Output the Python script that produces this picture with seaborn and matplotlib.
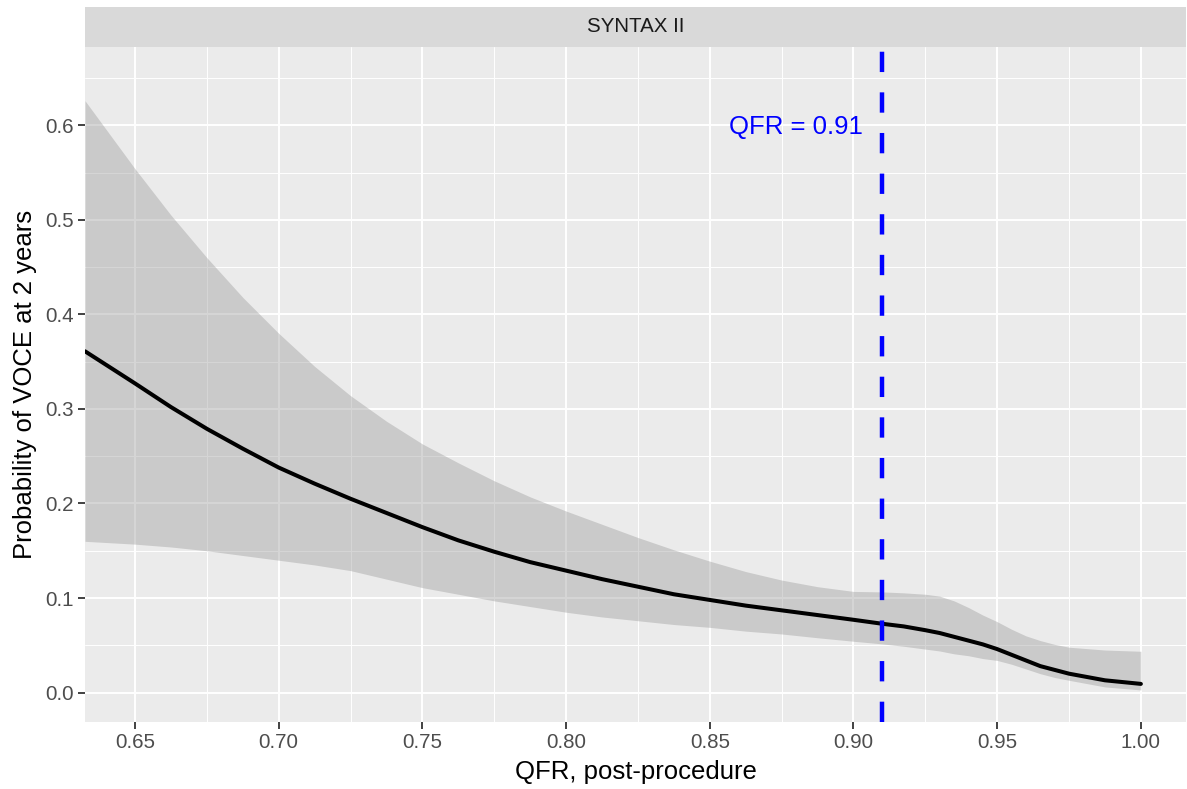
import numpy as np
import pandas as pd
import matplotlib
matplotlib.use("Agg")
import matplotlib.pyplot as plt
from matplotlib.ticker import MultipleLocator
import seaborn as sns

# ---- data ----
qfr = [0.6326, 0.65, 0.6625, 0.675, 0.6875, 0.70, 0.7125, 0.725, 0.7375, 0.75,
       0.7625, 0.775, 0.7875, 0.80, 0.8125, 0.825, 0.8375, 0.85, 0.8625, 0.875,
       0.8875, 0.90, 0.91, 0.9175, 0.925, 0.93, 0.935, 0.94, 0.945, 0.95, 0.955,
       0.96, 0.965, 0.97, 0.975, 0.9875, 1.00]
prob = [0.361, 0.327, 0.302, 0.279, 0.258, 0.238, 0.221, 0.205, 0.190, 0.175,
        0.161, 0.149, 0.138, 0.129, 0.120, 0.112, 0.104, 0.098, 0.092, 0.087,
        0.082, 0.077, 0.0728, 0.070, 0.066, 0.063, 0.059, 0.055, 0.051, 0.046,
        0.040, 0.034, 0.028, 0.024, 0.020, 0.013, 0.0092]
upper = [0.626, 0.554, 0.505, 0.460, 0.418, 0.380, 0.345, 0.314, 0.287, 0.263,
         0.243, 0.224, 0.207, 0.192, 0.178, 0.164, 0.151, 0.139, 0.128, 0.119,
         0.112, 0.107, 0.1065, 0.1055, 0.104, 0.102, 0.097, 0.090, 0.082, 0.075,
         0.067, 0.060, 0.055, 0.051, 0.048, 0.045, 0.0437]
lower = [0.160, 0.157, 0.154, 0.150, 0.145, 0.140, 0.135, 0.129, 0.120, 0.111,
         0.104, 0.097, 0.091, 0.085, 0.080, 0.076, 0.072, 0.069, 0.065, 0.062,
         0.058, 0.0543, 0.0515, 0.049, 0.046, 0.044, 0.041, 0.039, 0.036, 0.034,
         0.030, 0.025, 0.020, 0.016, 0.013, 0.006, 0.0028]
cutoff = 0.91
cutoff_label = "QFR = 0.91"
facet_label = "SYNTAX II"
x_ticks = [0.65, 0.70, 0.75, 0.80, 0.85, 0.90, 0.95, 1.00]
y_ticks = [0.0, 0.1, 0.2, 0.3, 0.4, 0.5, 0.6]

df = pd.DataFrame({"qfr": qfr, "prob": prob, "upper": upper, "lower": lower})

sns.set_theme(style="darkgrid")
plt.rcParams["font.family"] = ["Liberation Sans", "DejaVu Sans"]

W, H = 1187, 789
fig = plt.figure(figsize=(W / 100, H / 100), dpi=100)
fig.patch.set_facecolor("white")

pl, pr, pt, pb = 85, 1186, 47, 722
ax = fig.add_axes([pl / W, 1 - pb / H, (pr - pl) / W, (pb - pt) / H])
ax.set_facecolor("#EBEBEB")
for s in ax.spines.values():
    s.set_visible(False)

ax.set_xlim(0.6326, 1.0157)
ax.set_ylim(-0.0311, 0.6828)

ax.set_xticks(x_ticks)
ax.set_xticklabels([f"{v:.2f}" for v in x_ticks])
ax.set_yticks(y_ticks)
ax.set_yticklabels([f"{v:.1f}" for v in y_ticks])
ax.xaxis.set_minor_locator(MultipleLocator(0.025))
ax.yaxis.set_minor_locator(MultipleLocator(0.05))
ax.grid(which="major", color="white", linewidth=1.4)
ax.grid(which="minor", color="white", linewidth=0.7)
ax.set_axisbelow(True)

ax.fill_between(df["qfr"], df["lower"], df["upper"], color="#999999", alpha=0.4,
                linewidth=0, zorder=2)
sns.lineplot(data=df, x="qfr", y="prob", ax=ax, color="black", linewidth=2.9,
             zorder=3, legend=False)
for ln in ax.lines:
    ln.set_solid_joinstyle("round")

ax.axvline(cutoff, color="#0000FF", linewidth=3.2, dashes=(4.57, 4.57), zorder=4,
           ymin=0.0, ymax=1.0)
ax.text(cutoff - 0.0068, 0.598, cutoff_label, color="#0000FF", fontsize=18.5,
        ha="right", va="center", zorder=5)

ax.tick_params(axis="both", which="major", length=5, width=1.3, color="#333333",
               labelcolor="#4D4D4D", labelsize=14.8, pad=3, direction="out")
ax.tick_params(axis="both", which="minor", length=0)
ax.tick_params(axis="x", bottom=True)
ax.tick_params(axis="y", left=True)

ax.set_xlabel("QFR, post-procedure", fontsize=18.5, color="black", labelpad=6)
ax.set_ylabel("Probability of VOCE at 2 years", fontsize=18.5, color="black", labelpad=6)

# facet strip
st_top, st_bot = 7, 47
sax = fig.add_axes([pl / W, 1 - st_bot / H, (pr - pl) / W, (st_bot - st_top) / H])
sax.set_facecolor("#D9D9D9")
sax.set_xticks([])
sax.set_yticks([])
for s in sax.spines.values():
    s.set_visible(False)
sax.grid(False)
sax.text(0.5, 0.5, facet_label, transform=sax.transAxes, ha="center", va="center",
         fontsize=14.8, color="#1A1A1A")

fig.savefig("out.png", dpi=100, facecolor="white")
